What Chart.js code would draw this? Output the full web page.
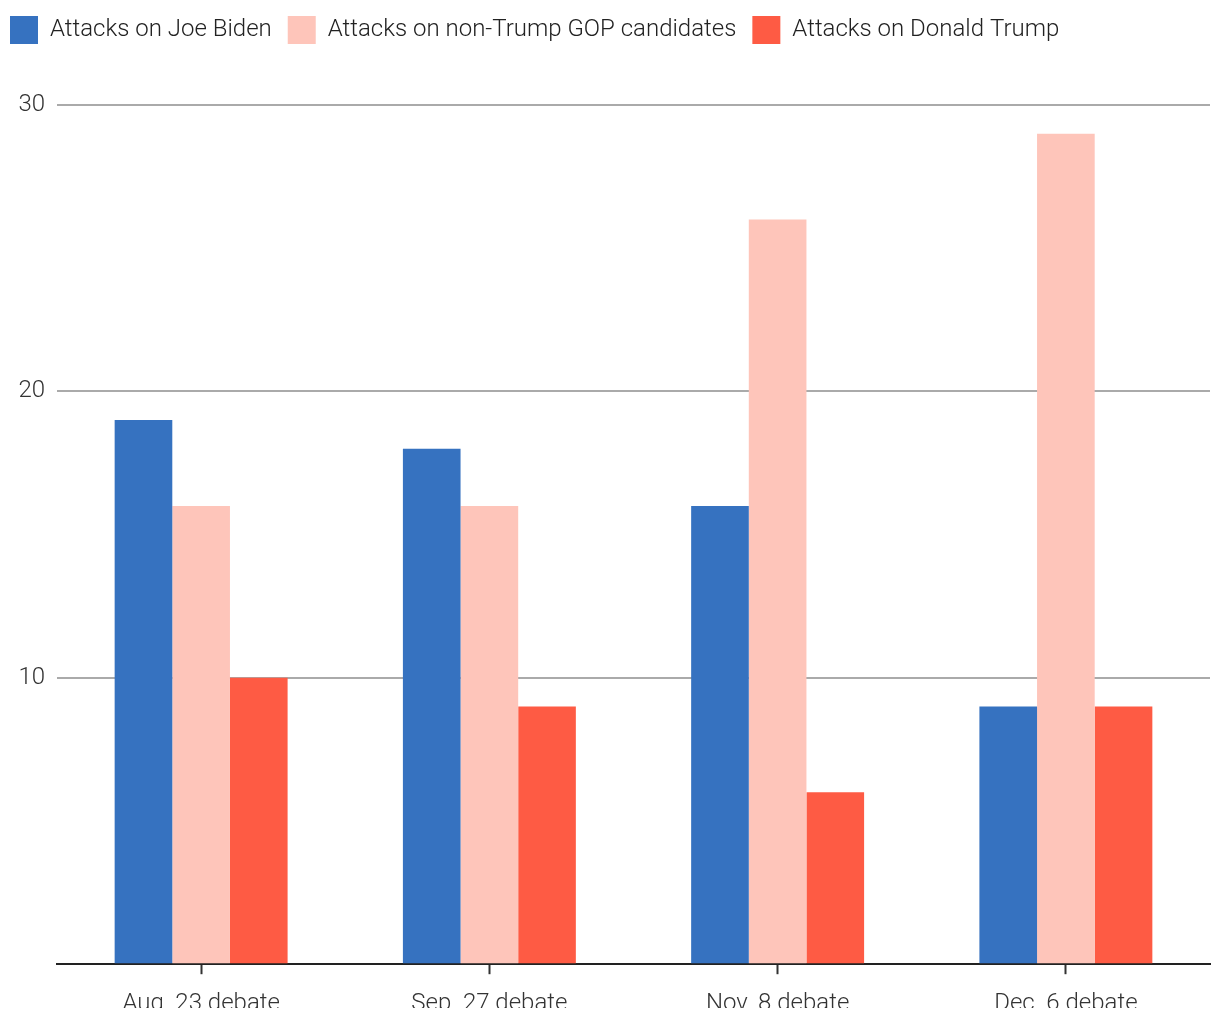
<!DOCTYPE html>
<html>
<head>
<meta charset="utf-8">
<script src="https://cdn.jsdelivr.net/npm/chart.js@4/dist/chart.umd.min.js"></script>
<style>
  html, body { margin: 0; padding: 0; background: #fff; }
  #wrap { width: 1220px; height: 1008px; overflow: hidden; position: relative; }
  #box { width: 1220px; height: 1033px; }
</style>
</head>
<body>
<div id="wrap"><div id="box"><canvas id="c"></canvas></div></div>
<script>
const categories = ["Aug. 23 debate", "Sep. 27 debate", "Nov. 8 debate", "Dec. 6 debate"];
const seriesNames = ["Attacks on Joe Biden", "Attacks on non-Trump GOP candidates", "Attacks on Donald Trump"];
const bidenValues = [19, 18, 16, 9];
const gopValues = [16, 16, 26, 29];
const trumpValues = [10, 9, 6, 9];
const yTicks = [10, 20, 30];

const colors = ["#3672c0", "#fec5ba", "#fe5b44"];
const FONT = "Roboto";

const legendMargin = {
  id: 'legendMargin',
  beforeInit(chart) {
    const fit = chart.legend.fit;
    chart.legend.fit = function () {
      fit.bind(chart.legend)();
      this.height += 51;
    };
  }
};

new Chart(document.getElementById('c'), {
  type: 'bar',
  data: {
    labels: categories,
    datasets: [
      { label: seriesNames[0], data: bidenValues, backgroundColor: colors[0] },
      { label: seriesNames[1], data: gopValues, backgroundColor: colors[1] },
      { label: seriesNames[2], data: trumpValues, backgroundColor: colors[2] }
    ]
  },
  options: {
    responsive: true,
    maintainAspectRatio: false,
    animation: false,
    datasets: { bar: { categoryPercentage: 0.6, barPercentage: 1.0 } },
    layout: { padding: { left: -6, right: 10, top: 0, bottom: 0 } },
    plugins: {
      tooltip: { enabled: false },
      legend: {
        position: 'top',
        align: 'start',
        labels: {
          boxWidth: 28,
          boxHeight: 28,
          padding: 16,
          color: '#222',
          font: { family: FONT, size: 24, weight: 300 }
        }
      }
    },
    scales: {
      x: {
        grid: {
          offset: false,
          drawOnChartArea: false,
          drawTicks: true,
          tickLength: 10,
          tickWidth: 2,
          tickColor: '#333'
        },
        border: { display: true, color: '#222', width: 2 },
        ticks: {
          padding: 15,
          color: '#333',
          font: { family: FONT, size: 24, weight: 300 }
        }
      },
      y: {
        min: 0,
        max: 30,
        afterBuildTicks(axis) {
          axis.ticks = [0].concat(yTicks).map(v => ({ value: v }));
        },
        afterFit(axis) { axis.width = 63; },
        grid: {
          color: '#aaa',
          lineWidth: 2,
          drawTicks: false
        },
        border: { display: false },
        ticks: {
          padding: 12,
          color: '#333',
          font: { family: FONT, size: 24, weight: 300 },
          callback: (v) => (v === 0 ? '' : String(v))
        }
      }
    }
  },
  plugins: [legendMargin]
});
</script>
</body>
</html>
